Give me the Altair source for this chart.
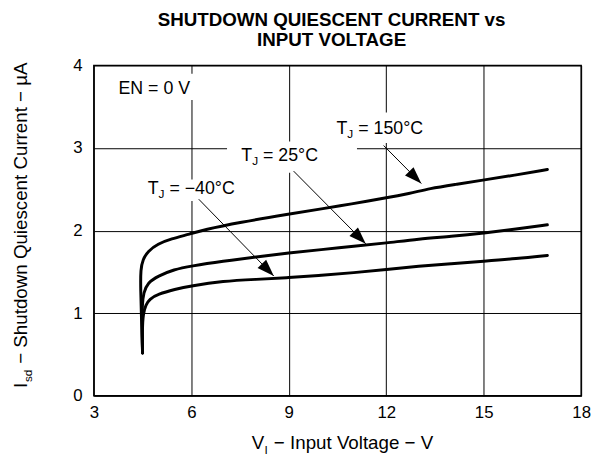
import math
import altair as alt
import pandas as pd

FONT = "Liberation Sans"

# ---------------- data ----------------
v_150 = [4.50, 4.47, 4.44, 4.44, 4.51, 4.66, 4.97, 5.37, 5.97, 6.38, 7.48, 9.00, 10.10,
         10.90, 11.90, 12.73, 13.33, 14.14, 14.94, 15.95, 16.96]
i_150 = [0.52, 0.90, 1.30, 1.53, 1.65, 1.75, 1.84, 1.90, 1.96, 2.01, 2.10, 2.20, 2.27,
         2.32, 2.39, 2.45, 2.51, 2.56, 2.61, 2.67, 2.74]
v_25 = [4.50, 4.48, 4.49, 4.53, 4.66, 4.97, 5.47, 5.97, 6.98, 8.00, 9.00, 10.00, 11.00,
        12.00, 13.00, 14.00, 15.00, 16.00, 16.96]
i_25 = [0.52, 0.90, 1.10, 1.25, 1.37, 1.45, 1.53, 1.57, 1.63, 1.68, 1.73, 1.77, 1.81,
        1.85, 1.90, 1.93, 1.97, 2.02, 2.07]
v_m40 = [4.50, 4.49, 4.52, 4.60, 4.71, 4.97, 5.50, 5.97, 6.98, 8.00, 9.00, 10.00, 11.00,
         12.00, 13.00, 14.00, 15.00, 16.00, 16.96]
i_m40 = [0.52, 0.80, 1.00, 1.10, 1.17, 1.23, 1.29, 1.33, 1.39, 1.41, 1.43, 1.46, 1.49,
         1.53, 1.57, 1.60, 1.63, 1.66, 1.70]

x_ticks = [3, 6, 9, 12, 15, 18]
y_ticks = [0, 1, 2, 3, 4]
x_domain = [3, 18]
y_domain = [0, 4]

title_lines = ["SHUTDOWN QUIESCENT CURRENT vs", "INPUT VOLTAGE"]

# temperature labels  T_J = ...
lab_main = ["T", "T", "T"]
lab_sub = ["J", "J", "J"]
lab_rest = ["= 150°C", "= 25°C", "= −40°C"]
lab_x = [10.47, 7.54, 4.66]
lab_y = [3.23, 2.90, 2.50]

en_text = ["EN = 0 V"]
en_x = [3.76]
en_y = [3.71]

# arrows (tail -> head)
arr_x1 = [11.92, 9.15, 6.23]
arr_y1 = [3.03, 2.72, 2.38]
arr_x2 = [13.08, 11.37, 8.54]
arr_y2 = [2.57, 1.84, 1.45]

# white boxes behind the labels (they interrupt the grid)
box_x1 = [3.60, 4.54, 7.10, 10.30]
box_x2 = [6.15, 7.60, 11.10, 13.30]
box_y1 = [3.58, 2.36, 2.70, 3.06]
box_y2 = [3.90, 2.62, 3.08, 3.43]

# axis titles
xt_main = ["V"]
xt_sub = ["I"]
xt_rest = ["− Input Voltage − V"]
yt_main = ["I"]
yt_sub = ["sd"]
yt_rest = ["− Shutdown Quiescent Current − µA"]

# ---------------- layout ----------------
W, H = 494, 335
PAD = {"left": 87, "top": 55, "right": 11, "bottom": 73}

xs = alt.Scale(domain=x_domain, nice=False, zero=False)
ys = alt.Scale(domain=y_domain, nice=False, zero=False)

ax_x = alt.Axis(values=x_ticks, grid=True, gridColor="black", gridWidth=1, gridOpacity=1,
                domain=False, ticks=False, labelFont=FONT, labelFontSize=17,
                labelColor="black", labelPadding=9, labelFlush=False, title="")
ax_y = alt.Axis(values=y_ticks, grid=True, gridColor="black", gridWidth=1, gridOpacity=1,
                domain=False, ticks=False, labelFont=FONT, labelFontSize=17,
                labelColor="black", labelPadding=12, title="")


def X(field):
    return alt.X(field, type="quantitative", scale=xs, axis=ax_x)


def Y(field):
    return alt.Y(field, type="quantitative", scale=ys, axis=ax_y)


rows = []
for name, vs_, is_ in (("150", v_150, i_150), ("25", v_25, i_25), ("-40", v_m40, i_m40)):
    for k, (a, b) in enumerate(zip(vs_, is_)):
        rows.append({"v": a, "i": b, "series": name, "idx": k})
curves = pd.DataFrame(rows)

lines = alt.Chart(curves).mark_line(color="black", strokeWidth=3, interpolate="basis",
                                    strokeCap="round").encode(
    x=X("v"), y=Y("i"), detail="series:N", order="idx:Q",
)

boxes = alt.Chart(pd.DataFrame({"x1": box_x1, "x2": box_x2, "y1": box_y1, "y2": box_y2})).mark_rect(
    color="white", opacity=1).encode(
    x=X("x1"), x2="x2:Q", y=Y("y1"), y2="y2:Q",
)

# arrows
sx = W / (x_domain[1] - x_domain[0])
sy = H / (y_domain[1] - y_domain[0])
angles = []
for a1, b1, a2, b2 in zip(arr_x1, arr_y1, arr_x2, arr_y2):
    dx = (a2 - a1) * sx
    dy = (b1 - b2) * sy
    angles.append(math.degrees(math.atan2(dx, -dy)) % 360)
arrows_df = pd.DataFrame({"x1": arr_x1, "y1": arr_y1, "x2": arr_x2, "y2": arr_y2, "ang": angles})

shafts = alt.Chart(arrows_df).mark_rule(color="black", strokeWidth=1).encode(
    x=X("x1"), y=Y("y1"), x2="x2:Q", y2="y2:Q",
)
heads = alt.Chart(arrows_df).mark_point(
    shape="M0,0L-0.7,2L0.7,2Z", filled=True, color="black", opacity=1, size=300).encode(
    x=X("x2"), y=Y("y2"), angle=alt.Angle("ang:Q", scale=None),
)

lab_df = pd.DataFrame({"main": lab_main, "sub": lab_sub, "rest": lab_rest, "x": lab_x, "y": lab_y})


def lab_layer(field, size, dx, dy):
    return alt.Chart(lab_df).mark_text(font=FONT, fontSize=size, color="black", align="left",
                                       baseline="middle", dx=dx, dy=dy).encode(
        x=X("x"), y=Y("y"), text=f"{field}:N")


lab_T = lab_layer("main", 18, 0, 0)
lab_J = lab_layer("sub", 12, 11, 5)
lab_R = lab_layer("rest", 18, 22, 0)

en = alt.Chart(pd.DataFrame({"t": en_text, "x": en_x, "y": en_y})).mark_text(
    font=FONT, fontSize=18, color="black", align="left", baseline="middle").encode(
    x=X("x"), y=Y("y"), text="t:N")


# axis titles built from text marks (for subscripts)
def free_text(vals, size, px, py, dx=0, dy=0, angle=0):
    return alt.Chart(pd.DataFrame({"t": vals})).mark_text(
        font=FONT, fontSize=size, color="black", align="left", baseline="alphabetic",
        dx=dx, dy=dy, angle=angle).encode(
        x=alt.value(px), y=alt.value(py), text="t:N")


XT_X, XT_Y = 160, 389
xt = [free_text(xt_main, 19, XT_X, XT_Y),
      free_text(xt_sub, 12, XT_X, XT_Y, dx=13, dy=5),
      free_text(xt_rest, 19, XT_X, XT_Y, dx=22.5)]

YT_X, YT_Y = -68, 327
yt = [free_text(yt_main, 19, YT_X, YT_Y, angle=270),
      free_text(yt_sub, 12, YT_X, YT_Y, dx=6, dy=5, angle=270),
      free_text(yt_rest, 19, YT_X, YT_Y, dx=24.5, angle=270)]

chart = alt.layer(
    lines, boxes, shafts, heads, lab_T, lab_J, lab_R, en, *xt, *yt
).properties(
    width=W, height=H,
    padding=PAD,
    autosize=alt.AutoSizeParams(type="none"),
    title=alt.TitleParams(text=title_lines, font=FONT, fontSize=19, fontWeight="bold",
                          color="black", anchor="middle", lineHeight=20, offset=7, dx=-6),
).configure_view(stroke="black", strokeWidth=1.5)

chart.save("out.html", embed_options={"renderer": "svg", "actions": False})
